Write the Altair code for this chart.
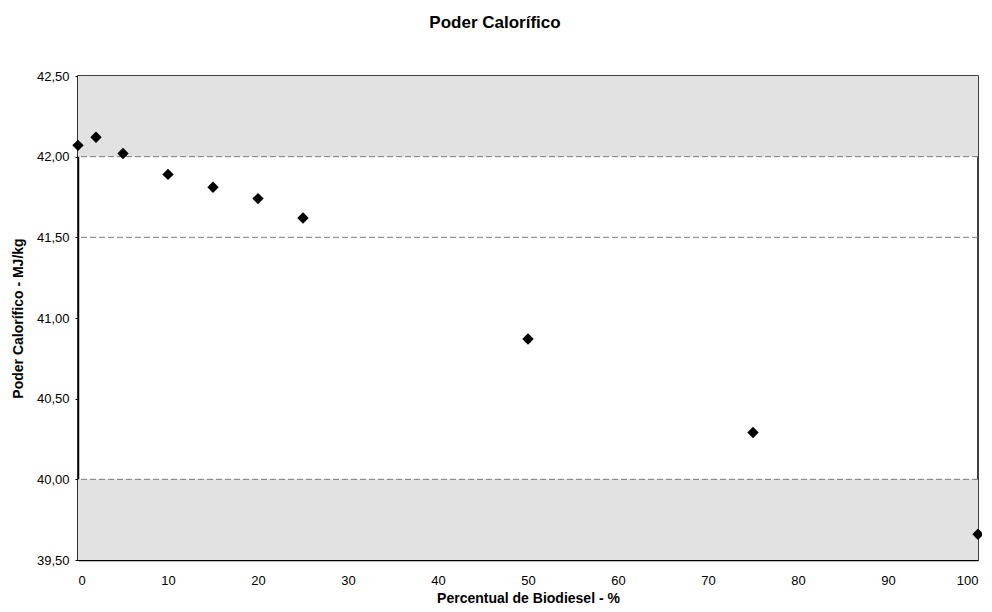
import altair as alt
import pandas as pd

percent = [0, 2, 5, 10, 15, 20, 25, 50, 75, 100]
poder = [42.07, 42.12, 42.02, 41.89, 41.81, 41.74, 41.62, 40.87, 40.29, 39.66]
grid_vals = [40.0, 41.5, 42.0]
band_lo = [42.0, 39.5]
band_hi = [42.5, 40.0]
x_ticks = list(range(0, 101, 10))
y_ticks = [39.5, 40.0, 40.5, 41.0, 41.5, 42.0, 42.5]

df = pd.DataFrame({"x": percent, "y": poder})
grid_df = pd.DataFrame({"g": grid_vals})
band_df = pd.DataFrame({"lo": band_lo, "hi": band_hi})

xscale = alt.Scale(domain=[0, 100], nice=False, zero=False)
yscale = alt.Scale(domain=[39.5, 42.5], nice=False, zero=False)

bands = alt.Chart(band_df).mark_rect(color="#e2e2e2", opacity=1).encode(
    x=alt.value(0), x2=alt.value(900),
    y=alt.Y("lo:Q", scale=yscale), y2="hi:Q",
)

grid = alt.Chart(grid_df).mark_rule(color="#7a7a7a", strokeDash=[6, 3], strokeWidth=1).encode(
    y=alt.Y("g:Q", scale=yscale)
)

pts = alt.Chart(df).mark_point(shape="diamond", filled=True, color="black", size=130, opacity=1).encode(
    x=alt.X("x:Q", scale=xscale,
            axis=alt.Axis(values=x_ticks, title="Percentual de Biodiesel - %",
                          grid=False, ticks=False, labelPadding=14, titlePadding=4)),
    y=alt.Y("y:Q", scale=yscale,
            axis=alt.Axis(values=y_ticks,
                          labelExpr="replace(format(datum.value, '.2f'), '.', ',')",
                          title="Poder Calorífico - MJ/kg",
                          grid=False, ticks=True, tickSize=3, labelPadding=6, titlePadding=11)),
)

chart = alt.layer(bands, grid, pts).properties(
    width=900, height=484,
    autosize=alt.AutoSizeParams(type="none"),
    padding={"left": 70, "top": 68, "right": 4, "bottom": 44},
    title=alt.TitleParams("Poder Calorífico", fontSize=17, fontWeight="bold",
                          font="Liberation Sans", color="black", offset=38, anchor="middle", dx=-33),
).configure_view(
    stroke="black", strokeWidth=1.5
).configure_axis(
    labelFont="Liberation Sans", titleFont="Liberation Sans",
    labelFontSize=13, titleFontSize=14, titleFontWeight="bold",
    labelColor="black", titleColor="black", domainColor="black", domainWidth=1.5,
    tickColor="black"
)

chart.save("out.html", embed_options={"renderer": "svg", "actions": False})
